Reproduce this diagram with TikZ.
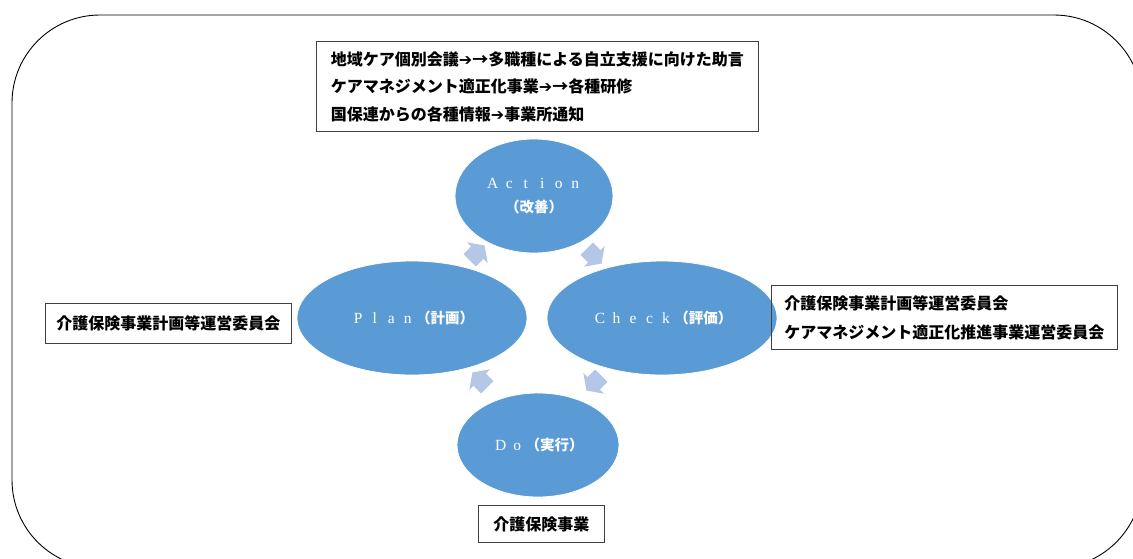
\documentclass[tikz,border=0pt]{standalone}
\usepackage{fontspec}
\setmainfont{Noto Sans CJK JP}
\newfontfamily\lserif{Liberation Serif}
\newfontfamily\dvs{DejaVu Sans}
\usetikzlibrary{shapes.geometric,shapes.arrows}
\definecolor{ellblue}{HTML}{5B9BD5}
\definecolor{arrblue}{HTML}{B4C7E7}
\definecolor{boxline}{HTML}{404040}
\newcommand\wl[1]{\makebox[16.5pt]{#1}}
\newcommand\lat[1]{{\lserif\mdseries\fontsize{15.5pt}{15.5pt}\selectfont #1}}
\newcommand\harr{{\dvs\bfseries ➔}}
\begin{document}
\begin{tikzpicture}[x=1pt,y=-1pt,
  cyc/.style={ellipse, fill=ellblue, draw=white, line width=0.8pt, text=white,
    inner sep=0pt, align=center, font=\fontsize{14.5pt}{16pt}\selectfont\bfseries},
  infobox/.style={draw=boxline, line width=0.9pt, inner sep=0pt, anchor=north west,
    align=left, font=\fontsize{16pt}{27.5pt}\selectfont\bfseries},
  cycarrow/.style={single arrow, fill=arrblue, draw=none, inner xsep=0pt,
    inner ysep=8.5pt, minimum height=21pt, single arrow head extend=6pt,
    single arrow tip angle=110}
]
\useasboundingbox (0,0) rectangle (1133,558);
\begin{scope}
\clip (0,0) rectangle (1133,558);
\draw[line width=0.9pt, rounded corners=88pt] (12,15) rectangle (1142,568);
\end{scope}

% cycle ellipses
\node[cyc, minimum width=158pt, minimum height=114pt] (act) at (534,196)
  {\lat{\wl{A}\wl{c}\wl{t}\wl{i}\wl{o}\wl{n}}\\[8pt]（改善）};
\node[cyc, minimum width=230pt, minimum height=114pt] (plan) at (412,318)
  {\lat{\wl{P}\wl{l}\wl{a}\wl{n}}（計画）};
\node[cyc, minimum width=230pt, minimum height=114pt] (chk) at (662,318)
  {\lat{\wl{C}\wl{h}\wl{e}\wl{c}\wl{k}}（評価）};
\node[cyc, minimum width=162pt, minimum height=104pt] (do) at (538,445)
  {\lat{\wl{D}\wl{o}}（実行）};

% cycle arrows
\node[cycarrow, rotate=45] (a1) at (475,255) {};
\node[cycarrow, rotate=-45] (a2) at (592,254) {};
\node[cycarrow, rotate=-135] (a3) at (596,381) {};
\node[cycarrow, rotate=135] (a4) at (482,382) {};

% info boxes
\node[infobox, minimum width=442pt, minimum height=90pt] (btop) at (316,41)
  {地域ケア個別会議\harr→多職種による自立支援に向けた助言\\
   ケアマネジメント適正化事業\harr→各種研修\\
   国保連からの各種情報\harr 事業所通知};
\node[infobox, minimum width=346pt, minimum height=64pt,
  font=\fontsize{16pt}{29pt}\selectfont\bfseries] (bright) at (771,285)
  {介護保険事業計画等運営委員会\\
   ケアマネジメント適正化推進事業運営委員会};
\node[infobox, minimum width=246pt, minimum height=40pt] (bleft) at (45,303)
  {介護保険事業計画等運営委員会};
\node[infobox, minimum width=126pt, minimum height=37pt] (bbot) at (478,505)
  {介護保険事業};
\end{tikzpicture}
\end{document}
